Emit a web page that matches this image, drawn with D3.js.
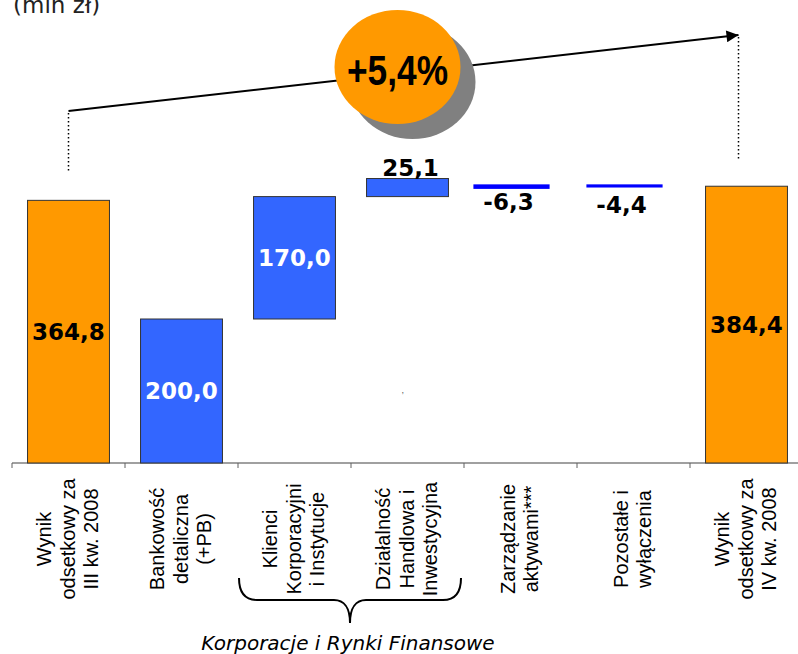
<!DOCTYPE html>
<html>
<head>
<meta charset="utf-8">
<script src="https://cdn.jsdelivr.net/npm/d3@7"></script>
<style>
  body { margin: 0; background: #fff; }
  svg { display: block; }
</style>
</head>
<body>
<div id="chart"></div>
<script>
// waterfall of net interest income, mln zł
const categories = [
  ['Wynik', 'odsetkowy za', 'III kw. 2008'],
  ['Bankowość', 'detaliczna', '(+PB)'],
  ['Klienci', 'Korporacyjni', 'i Instytucje'],
  ['Działalność', 'Handlowa i', 'Inwestycyjna'],
  ['Zarządzanie', 'aktywami***'],
  ['Pozostałe i', 'wyłączenia'],
  ['Wynik', 'odsetkowy za', 'IV kw. 2008'],
];
const values = [364.8, 200.0, 170.0, 25.1, -6.3, -4.4, 384.4];
const starts = [0, 0, 200.0, 370.0, 387.0, 387.0, 0];
const kinds = ['total', 'step', 'step', 'step', 'line', 'line', 'total'];
const valueLabels = ['364,8', '200,0', '170,0', '25,1', '-6,3', '-4,4', '384,4'];
const groupLabel = 'Korporacje i Rynki Finansowe';
const growthLabel = '+5,4%';
const unitLabel = '(mln zł)';

const width = 798;
const height = 654;
const baseY = 463;

const svg = d3.select('#chart')
  .append('svg')
  .attr('width', width)
  .attr('height', height);

const ids = categories.map((d, i) => i);

const x = d3.scaleBand()
  .domain(ids)
  .range([12, 12 + 113 * ids.length])
  .paddingInner(0.275)
  .paddingOuter(0.1375);

const y = d3.scaleLinear().domain([0, 400]).range([baseY, 175]);

const gap = x.step() - x.bandwidth();
const center = (i) => x(i) + x.bandwidth() / 2;

const bars = ids.map((i) => ({
  i,
  kind: kinds[i],
  lo: Math.min(starts[i], starts[i] + values[i]),
  hi: Math.max(starts[i], starts[i] + values[i]),
  label: valueLabels[i],
}));

// axis
svg.append('line')
  .attr('x1', x(0) - gap / 2).attr('x2', width)
  .attr('y1', baseY).attr('y2', baseY)
  .attr('stroke', '#808080').attr('stroke-width', 1.5);

svg.append('g')
  .selectAll('line')
  .data(d3.range(ids.length + 1))
  .join('line')
  .attr('x1', (k) => x(0) - gap / 2 + k * x.step())
  .attr('x2', (k) => x(0) - gap / 2 + k * x.step())
  .attr('y1', baseY).attr('y2', baseY + 5)
  .attr('stroke', '#606060').attr('stroke-width', 1);

// bars
const lineShift = -9;
const lineW = x.bandwidth() * 0.93;

svg.append('g')
  .selectAll('rect')
  .data(bars)
  .join('rect')
  .attr('x', (d) => d.kind === 'line' ? center(d.i) + lineShift - lineW / 2 : x(d.i))
  .attr('width', (d) => d.kind === 'line' ? lineW : x.bandwidth())
  .attr('y', (d) => y(d.hi))
  .attr('height', (d) => y(d.lo) - y(d.hi))
  .attr('fill', (d) => d.kind === 'total' ? '#FF9900' : d.kind === 'step' ? '#3366FF' : '#0000FF')
  .attr('stroke', (d) => d.kind === 'line' ? 'none' : '#333')
  .attr('stroke-width', 1);

// value labels
svg.append('g')
  .selectAll('text')
  .data(bars)
  .join('text')
  .attr('x', (d) => d.kind === 'line' ? center(d.i) + lineShift - 3 : center(d.i) + (y(d.lo) - y(d.hi) < 30 ? 3 : 0))
  .attr('y', (d) => {
    const h = y(d.lo) - y(d.hi);
    if (d.kind === 'line') return y(d.hi) + 26 + (d.i === 5 ? 3 : 0);
    if (h < 30) return y(d.hi) - 3;
    return (y(d.lo) + y(d.hi)) / 2 + 8;
  })
  .attr('text-anchor', 'middle')
  .attr('font-family', 'Verdana, "DejaVu Sans", sans-serif')
  .attr('font-weight', 'bold')
  .attr('font-size', 23)
  .attr('fill', (d) => d.kind === 'step' && (y(d.lo) - y(d.hi)) >= 30 ? '#fff' : '#000')
  .text((d) => d.label);

// stray mark under the trading bar
svg.append('text')
  .attr('x', center(3) - 6).attr('y', 393)
  .attr('font-family', 'Arial, "Liberation Sans", sans-serif')
  .attr('font-size', 9).attr('fill', '#555')
  .text(',');

// category labels
const lineGap = 23.5;
const catG = svg.append('g')
  .selectAll('g')
  .data(ids)
  .join('g')
  .attr('transform', (i) => `translate(${center(i)}, 539) rotate(-90)`);

catG.append('text')
  .attr('text-anchor', 'middle')
  .attr('font-family', '"Liberation Sans", Arial, sans-serif')
  .attr('font-size', 20)
  .attr('fill', '#000')
  .selectAll('tspan')
  .data((i) => categories[i].map((t, k, arr) => ({ t, k, n: arr.length })))
  .join('tspan')
  .attr('x', 0)
  .attr('y', (d) => 6 + (d.k - (d.n - 1) / 2) * lineGap)
  .text((d) => d.t);

// brace under the corporate segments
const bl = x(2) - gap / 2 + 1;
const br = x(3) + x.bandwidth() + gap / 2 - 3;
const bm = (bl + br) / 2;
svg.append('path')
  .attr('d', `M${bl},578 C${bl},592 ${bl + 6},600 ${bl + 18},600 L${bm - 16},600 C${bm - 6},600 ${bm},608 ${bm},623 C${bm},608 ${bm + 6},600 ${bm + 16},600 L${br - 18},600 C${br - 6},600 ${br},592 ${br},578`)
  .attr('fill', 'none')
  .attr('stroke', '#000')
  .attr('stroke-width', 2);

svg.append('text')
  .attr('x', bm - 2).attr('y', 650)
  .attr('text-anchor', 'middle')
  .attr('font-family', 'Tahoma, "DejaVu Sans", sans-serif')
  .attr('font-style', 'italic')
  .attr('font-size', 20)
  .attr('fill', '#000')
  .text(groupLabel);

// growth arrow
const ax0 = center(0);
const ax1 = center(6) - 8;
svg.append('defs').append('marker')
  .attr('id', 'head')
  .attr('viewBox', '0 0 10 10')
  .attr('refX', 10).attr('refY', 5)
  .attr('markerWidth', 16).attr('markerHeight', 12)
  .attr('markerUnits', 'userSpaceOnUse')
  .attr('orient', 'auto')
  .append('path')
  .attr('d', 'M0,0 L10,5 L0,10 Z')
  .attr('fill', '#000');

svg.append('line')
  .attr('x1', ax0).attr('y1', 111)
  .attr('x2', ax1).attr('y2', 35)
  .attr('stroke', '#000').attr('stroke-width', 2)
  .attr('marker-end', 'url(#head)');

svg.append('line')
  .attr('x1', ax0).attr('x2', ax0)
  .attr('y1', 113).attr('y2', y(values[0]) - 28)
  .attr('stroke', '#000').attr('stroke-width', 1.5)
  .attr('stroke-dasharray', '1.5,2.5');

svg.append('line')
  .attr('x1', ax1).attr('x2', ax1)
  .attr('y1', 37).attr('y2', y(values[6]) - 26)
  .attr('stroke', '#000').attr('stroke-width', 1.5)
  .attr('stroke-dasharray', '1.5,2.5');

// growth bubble
const cx = (ax0 + ax1) / 2 - 6;
svg.append('ellipse')
  .attr('cx', cx + 15).attr('cy', 82)
  .attr('rx', 63).attr('ry', 57)
  .attr('fill', '#808080');
svg.append('ellipse')
  .attr('cx', cx).attr('cy', 67)
  .attr('rx', 63).attr('ry', 57)
  .attr('fill', '#FF9900');
svg.append('text')
  .attr('x', cx).attr('y', 85)
  .attr('text-anchor', 'middle')
  .attr('font-family', '"Liberation Sans Narrow", "Arial Narrow", Arial, sans-serif')
  .attr('font-weight', 'bold')
  .attr('font-size', 42)
  .attr('textLength', 101)
  .attr('lengthAdjust', 'spacingAndGlyphs')
  .attr('fill', '#000')
  .text(growthLabel);

// unit label, partly above the top edge as in the source slide
svg.append('text')
  .attr('x', 13).attr('y', 13)
  .attr('font-family', 'Tahoma, "DejaVu Sans", sans-serif')
  .attr('font-size', 23)
  .attr('fill', '#222')
  .text(unitLabel);
</script>
</body>
</html>
